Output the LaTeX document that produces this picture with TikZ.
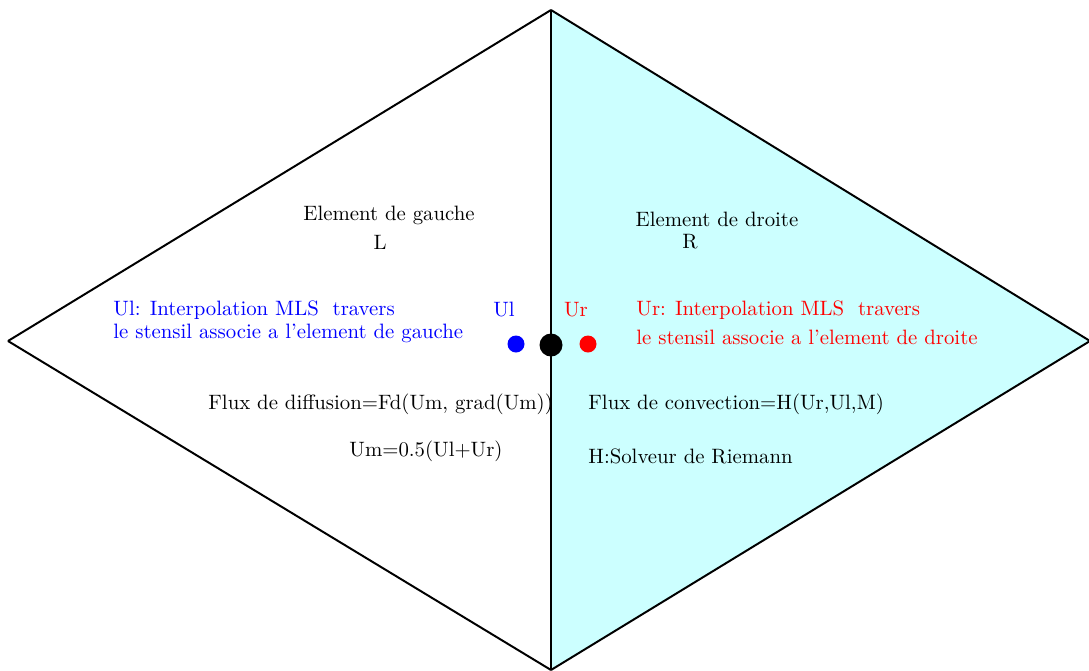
\documentclass[tikz,border=0pt]{standalone}
\usepackage{tikz}
\usetikzlibrary{positioning}
\definecolor{cellfill}{RGB}{204,255,255}

\begin{document}
\begin{tikzpicture}[
		x=0.481pt, y=-0.481pt,
		edge/.style = {draw, line width=0.95pt},
		pt/.style = {circle, inner sep=0pt, minimum size=17pt*0.481},
		txt/.style = {inner sep=0pt, anchor=west},
		ltxt/.style = {txt, text=blue},
		rtxt/.style = {txt, text=red}
	]
	\useasboundingbox (0,0) rectangle (1089,671);
	% Vertices of the two elements.
	\coordinate (left) at (8,341);
	\coordinate (top) at (551,10);
	\coordinate (right) at (1090,341);
	\coordinate (bot) at (551,670);
	% Fill the right element.
	\fill[cellfill] (top) -- (right) -- (bot) -- cycle;
	% Draw the edges.
	\draw[edge] (top) -- (left);
	\draw[edge] (left) -- (bot);
	\draw[edge] (top) -- (right);
	\draw[edge] (right) -- (bot);
	\draw[edge] (top) -- (bot);
	% Points on the interface.
	\node[pt, fill=blue] (pl) at (516,344) {};
	\node[pt, fill=black, minimum size=23pt*0.481] (pm) at (551,345) {};
	\node[pt, fill=red] (pr) at (588,344) {};
	\node[text=blue] (ul) at (504,310) {Ul};
	\node[text=red] (ur) at (576,310) {Ur};
	% Element labels.
	\node (eg) at (389,215) {Element de gauche};
	\node (l) at (380,242) {L};
	\node (ed) at (717,219) {Element de droite};
	\node (r) at (690,242) {R};
	% Interpolation texts.
	\node[ltxt] (lt1) at (113,310) {Ul: Interpolation MLS\ \ travers};
	\node[ltxt] (lt2) at (113,333) {le stensil associe a l'element de gauche};
	\node[rtxt] (rt1) at (636,310) {Ur: Interpolation MLS\ \ travers};
	\node[rtxt] (rt2) at (636,337) {le stensil associe a l'element de droite};
	% Fluxes.
	\node[txt] (fd) at (208,404) {Flux de diffusion=Fd(Um, grad(Um))};
	\node (um) at (426,451) {Um=0.5(Ul+Ur)};
	\node[txt] (fc) at (588,404) {Flux de convection=H(Ur,Ul,M)};
	\node[txt] (h) at (588,456) {H:Solveur de Riemann};
\end{tikzpicture}
\end{document}
